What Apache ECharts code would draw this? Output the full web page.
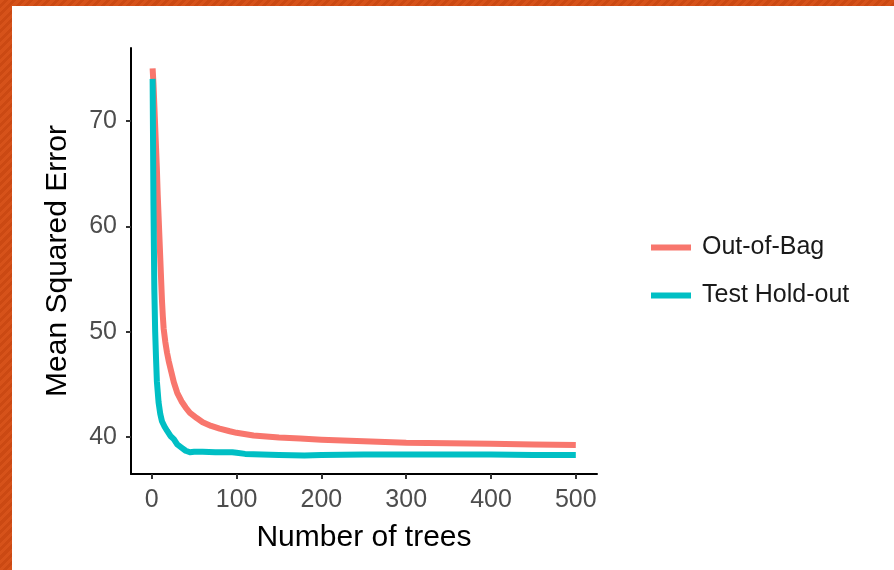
<!DOCTYPE html>
<html>
<head>
<meta charset="utf-8">
<script src="https://cdn.jsdelivr.net/npm/echarts@6/dist/echarts.min.js"></script>
<style>
  html, body { margin: 0; padding: 0; background: #fff; }
  #chart { position: absolute; left: 0; top: 0; width: 894px; height: 570px; }
  .band { position: absolute; background: repeating-linear-gradient(135deg, #D6521A 0px, #D6521A 3px, #CB4913 3px, #CB4913 6px); }
</style>
</head>
<body>
<div id="chart"></div>
<div class="band" style="left:0;top:0;width:12px;height:570px;"></div>
<div class="band" style="left:0;top:0;width:894px;height:6px;"></div>
<script>
// ---- data ----
const seriesNames = ['Out-of-Bag', 'Test Hold-out'];
const oobTrees = [1, 2, 3, 4, 5, 6, 7, 8, 9, 10, 11, 12, 13, 14, 16, 18, 20, 23, 26, 30, 35, 40, 45, 53, 60, 70, 80, 92, 100, 120, 150, 175, 200, 250, 300, 350, 400, 450, 500];
const oobMse   = [75.0, 73.5, 71.5, 69.5, 67.5, 65.5, 63.0, 61.0, 59.0, 57.0, 55.0, 53.0, 51.5, 50.3, 49.0, 48.0, 47.2, 46.2, 45.2, 44.2, 43.4, 42.8, 42.3, 41.8, 41.4, 41.05, 40.8, 40.55, 40.4, 40.15, 39.95, 39.85, 39.75, 39.6, 39.45, 39.4, 39.35, 39.3, 39.25];
const testTrees = [1, 2, 3, 4, 5, 6, 7, 8, 10, 12, 15, 18, 22, 26, 30, 35, 40, 45, 50, 60, 75, 95, 100, 110, 130, 150, 180, 200, 250, 300, 350, 400, 450, 500];
const testMse   = [74.0, 62.0, 54.0, 50.0, 47.5, 45.3, 44.3, 43.3, 42.2, 41.5, 41.0, 40.6, 40.1, 39.8, 39.3, 39.0, 38.7, 38.55, 38.6, 38.6, 38.55, 38.55, 38.5, 38.4, 38.35, 38.3, 38.25, 38.3, 38.35, 38.35, 38.35, 38.35, 38.3, 38.3];
const xTicks = [0, 100, 200, 300, 400, 500];
const yTicks = [40, 50, 60, 70];
const colors = ['#F8766D', '#00BFC4'];

const zip = (a, b) => a.map((v, i) => [v, b[i]]);

const chart = echarts.init(document.getElementById('chart'), null, { renderer: 'canvas' });
const font = '"Liberation Sans", Arial, sans-serif';
chart.setOption({
  backgroundColor: '#ffffff',
  animation: false,
  textStyle: { fontFamily: font },
  grid: { left: 131, top: 48, width: 466, height: 426, containLabel: false },
  legend: {
    orient: 'vertical',
    left: 646,
    top: 230,
    itemWidth: 40,
    itemHeight: 6,
    itemGap: 23,
    icon: 'rect',
    data: seriesNames,
    textStyle: { fontSize: 25, color: '#1a1a1a', fontFamily: font, lineHeight: 25, padding: [0, 0, 0, 6] }
  },
  xAxis: {
    type: 'value',
    min: -24.5,
    max: 525,
    name: 'Number of trees',
    nameLocation: 'middle',
    nameGap: 49,
    nameTextStyle: { fontSize: 30, color: '#000', fontFamily: font },
    axisLine: { show: true, onZero: false, lineStyle: { color: '#000', width: 2 } },
    axisTick: { show: true, customValues: xTicks, length: 5, lineStyle: { color: '#333', width: 2 } },
    axisLabel: { customValues: xTicks, fontSize: 25, color: '#4D4D4D', margin: 14, fontFamily: font },
    splitLine: { show: false }
  },
  yAxis: {
    type: 'value',
    min: 36.49,
    max: 76.93,
    name: 'Mean Squared Error',
    nameLocation: 'middle',
    nameRotate: 90,
    nameGap: 58,
    nameTextStyle: { fontSize: 30, color: '#000', fontFamily: font },
    axisLine: { show: true, onZero: false, lineStyle: { color: '#000', width: 2 } },
    axisTick: { show: true, customValues: yTicks, length: 5, lineStyle: { color: '#333', width: 2 } },
    axisLabel: { customValues: yTicks, fontSize: 25, color: '#4D4D4D', margin: 14, fontFamily: font },
    splitLine: { show: false }
  },
  series: [
    {
      name: seriesNames[0], type: 'line', data: zip(oobTrees, oobMse),
      showSymbol: false, symbol: 'none', color: colors[0],
      lineStyle: { width: 6, color: colors[0], cap: 'butt', join: 'round' }, z: 2
    },
    {
      name: seriesNames[1], type: 'line', data: zip(testTrees, testMse),
      showSymbol: false, symbol: 'none', color: colors[1],
      lineStyle: { width: 6, color: colors[1], cap: 'butt', join: 'round' }, z: 3
    }
  ]
});
</script>
</body>
</html>
